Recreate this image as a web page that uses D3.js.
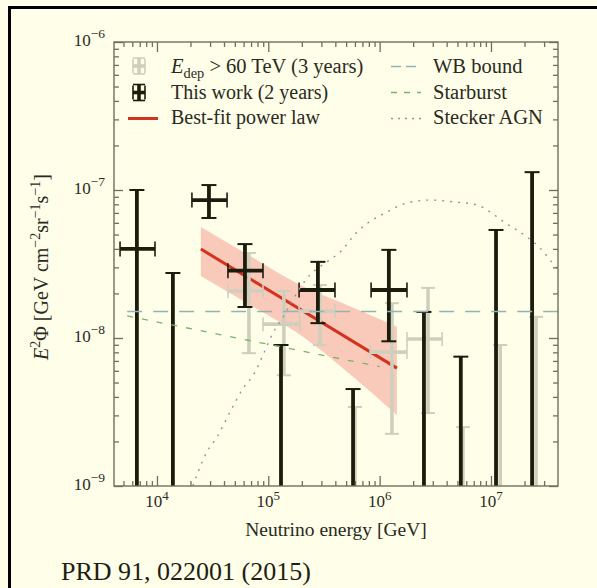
<!DOCTYPE html>
<html>
<head>
<meta charset="utf-8">
<script src="https://cdn.jsdelivr.net/npm/d3@7"></script>
<style>
body { margin: 0; background: #fefee9; }
text { font-family: "Liberation Serif", serif; fill: #2a2a1e; }
</style>
</head>
<body>
<svg id="chart" width="597" height="588"></svg>
<script>
// ---- data ----
// This work (2 years): measured bins
var workE     = [6.6e3, 2.93e4, 6.17e4, 2.79e5, 1.21e6]
var workELo   = [4.66e3, 2.06e4, 4.34e4, 1.89e5, 8.38e5]
var workEHi   = [9.6e3, 4.26e4, 8.96e4, 3.97e5, 1.76e6]
var workFlux  = [4.0e-8, 8.55e-8, 2.85e-8, 2.11e-8, 2.11e-8]
var workLo    = [0, 6.47e-8, 1.62e-8, 1.26e-8, 9.5e-9]
var workHi    = [1.0e-7, 1.08e-7, 4.31e-8, 3.27e-8, 3.94e-8]
// This work: upper limits
var workUlE   = [1.39e4, 1.3e5, 5.77e5, 2.5e6, 5.36e6, 1.11e7, 2.34e7]
var workUl    = [2.75e-8, 8.97e-9, 4.52e-9, 1.5e-8, 7.48e-9, 5.37e-8, 1.32e-7]

// Edep > 60 TeV (3 years)
var threeE    = [6.7e4, 1.38e5, 2.91e5, 1.29e6, 2.72e6]
var threeELo  = [4.34e4, 8.96e4, 1.89e5, 8.2e5, 1.76e6]
var threeEHi  = [8.96e4, 1.93e5, 3.97e5, 1.76e6, 3.64e6]
var threeFlux = [2.08e-8, 1.24e-8, 1.52e-8, 8.03e-9, 9.85e-9]
var threeLo   = [7.9e-9, 5.6e-9, 8.97e-9, 2.25e-9, 3.11e-9]
var threeHi   = [3.75e-8, 2.08e-8, 2.28e-8, 1.72e-8, 2.18e-8]
var threeUlE  = [6.0e5, 5.6e6, 1.21e7, 2.54e7]
var threeUl   = [3.42e-9, 2.5e-9, 8.97e-9, 1.39e-8]

// best-fit power law and its band
var fitE      = [2.48e4, 1.43e6]
var fitFlux   = [3.99e-8, 6.26e-9]
var bandE     = [2.48e4, 6.86e4, 1.93e5, 5.42e5, 1.43e6]
var bandHi    = [5.62e-8, 3.58e-8, 2.28e-8, 1.64e-8, 1.19e-8]
var bandLo    = [2.62e-8, 1.67e-8, 1.05e-8, 5.7e-9, 3.02e-9]

// models
var wbE       = [5.4e3, 4.35e7]
var wbFlux    = [1.51e-8, 1.51e-8]
var sbE       = [5.4e3, 1.0e6]
var sbFlux    = [1.41e-8, 6.4e-9]
var agnE      = [2.10e4, 2.81e4, 3.46e4, 4.53e4, 5.81e4, 7.60e4, 8.95e4, 1.10e5, 1.36e5, 1.93e5, 2.37e5,
                 3.37e5, 4.41e5, 6.27e5, 1.16e6, 1.76e6, 2.84e6, 4.66e6, 7.50e6, 9.82e6, 1.31e7, 2.11e7,
                 2.76e7, 3.69e7, 4.17e7]
var agnFlux   = [1.0e-9, 1.70e-9, 2.14e-9, 3.16e-9, 4.46e-9, 5.89e-9, 7.67e-9, 1.08e-8, 1.39e-8, 2.18e-8, 2.67e-8,
                 3.27e-8, 3.81e-8, 5.20e-8, 7.10e-8, 8.17e-8, 8.55e-8, 8.30e-8, 7.93e-8, 7.10e-8, 6.08e-8, 4.81e-8,
                 4.06e-8, 3.11e-8, 2.79e-8]

var xMajor = [1e4, 1e5, 1e6, 1e7]
var yMajor = [1e-9, 1e-8, 1e-7, 1e-6]
var xExp = ['4', '5', '6', '7']
var yExp = ['\u22129', '\u22128', '\u22127', '\u22126']

// ---- layout ----
var svg = d3.select('#chart')
var L = 114, R = 558, T = 42, B = 486
var x = d3.scaleLog().domain([Math.pow(10, 3.614), Math.pow(10, 7.602)]).range([L, R])
var y = d3.scaleLog().domain([1e-9, 1e-6]).range([B, T])

var black = '#1c1c0c', gray = '#cfcfbd', axisCol = '#6f6f5c'

// frame of the slide
svg.append('line').attr('x1', 8).attr('x2', 597).attr('y1', 7.5).attr('y2', 7.5)
    .attr('stroke', '#000').attr('stroke-width', 3)
svg.append('line').attr('x1', 9.5).attr('x2', 9.5).attr('y1', 6).attr('y2', 588)
    .attr('stroke', '#000').attr('stroke-width', 3)

svg.append('clipPath').attr('id', 'plotclip')
    .append('rect').attr('x', L).attr('y', T).attr('width', R - L).attr('height', B - T)

var plot = svg.append('g').attr('clip-path', 'url(#plotclip)')

// band
var band = bandE.map(function(e, i) { return {e: e, lo: bandLo[i], hi: bandHi[i]} })
plot.append('path')
    .datum(band)
    .attr('fill', '#f8c4b4')
    .attr('opacity', 0.9)
    .attr('d', d3.area()
        .x(function(d) { return x(d.e) })
        .y0(function(d) { return y(d.lo) })
        .y1(function(d) { return y(d.hi) })
        .curve(d3.curveMonotoneX))

var line = d3.line()
    .x(function(d) { return x(d[0]) })
    .y(function(d) { return y(d[1]) })

plot.append('path')
    .datum(d3.zip(fitE, fitFlux))
    .attr('fill', 'none').attr('stroke', '#d2321f').attr('stroke-width', 3)
    .attr('d', line)

// models (not clipped on the right, as in the figure)
var models = svg.append('g')
models.append('path').datum(d3.zip(wbE, wbFlux))
    .attr('fill', 'none').attr('stroke', '#93b3b4').attr('stroke-width', 1.4)
    .attr('stroke-dasharray', '15,11').attr('d', line)
models.append('path').datum(d3.zip(sbE, sbFlux))
    .attr('fill', 'none').attr('stroke', '#78b46a').attr('stroke-width', 1.3)
    .attr('stroke-dasharray', '6,9').attr('d', line)
models.append('path').datum(d3.zip(agnE, agnFlux))
    .attr('fill', 'none').attr('stroke', '#a48aa4').attr('stroke-width', 1.4)
    .attr('stroke-dasharray', '2,6').attr('d', line.curve(d3.curveMonotoneX))
line.curve(d3.curveLinear)

// error bars
function errbar(g, color, cx, xlo, xhi, fy, ylo, yhi, lw, cap) {
    var px = x(cx)
    var top = y(yhi)
    var bot = ylo > 0 ? y(ylo) : B + 2
    g.append('line').attr('x1', px).attr('x2', px).attr('y1', top).attr('y2', bot)
        .attr('stroke', color).attr('stroke-width', lw)
    g.append('line').attr('x1', px - cap / 2).attr('x2', px + cap / 2).attr('y1', top).attr('y2', top)
        .attr('stroke', color).attr('stroke-width', 2)
    if (ylo > 0) {
        g.append('line').attr('x1', px - cap / 2).attr('x2', px + cap / 2).attr('y1', bot).attr('y2', bot)
            .attr('stroke', color).attr('stroke-width', 2)
    }
    if (xlo != null) {
        var py = y(fy)
        g.append('line').attr('x1', x(xlo)).attr('x2', x(xhi)).attr('y1', py).attr('y2', py)
            .attr('stroke', color).attr('stroke-width', lw)
        ;[x(xlo), x(xhi)].forEach(function(e) {
            g.append('line').attr('x1', e).attr('x2', e).attr('y1', py - cap / 2).attr('y2', py + cap / 2)
                .attr('stroke', color).attr('stroke-width', 1.6)
        })
    }
}

var gGray = plot.append('g')
threeE.forEach(function(e, i) {
    errbar(gGray, gray, e, threeELo[i], threeEHi[i], threeFlux[i], threeLo[i], threeHi[i], 3.6, 14)
})
threeUlE.forEach(function(e, i) {
    errbar(gGray, gray, e, null, null, null, 0, threeUl[i], 3.6, 14)
})

var gBlack = plot.append('g')
workE.forEach(function(e, i) {
    errbar(gBlack, black, e, workELo[i], workEHi[i], workFlux[i], workLo[i], workHi[i], 3.8, 15)
})
workUlE.forEach(function(e, i) {
    errbar(gBlack, black, e, null, null, null, 0, workUl[i], 3.8, 15)
})

// ---- axes ----
svg.append('rect').attr('x', L).attr('y', T).attr('width', R - L).attr('height', B - T)
    .attr('fill', 'none').attr('stroke', axisCol).attr('stroke-width', 1.4)

function minorTicks(scale) {
    var d = scale.domain(), out = []
    for (var p = Math.floor(Math.log10(d[0])); p <= Math.ceil(Math.log10(d[1])); p++) {
        for (var k = 2; k <= 9; k++) {
            var v = k * Math.pow(10, p)
            if (v > d[0] && v < d[1]) out.push(v)
        }
    }
    return out
}

function tickAxis(gen, scale, vals, len, tr) {
    var g = svg.append('g').attr('transform', tr)
        .call(gen(scale).tickValues(vals).tickSizeInner(-len).tickSizeOuter(0).tickFormat(''))
    g.select('.domain').remove()
    g.selectAll('line').attr('stroke', axisCol).attr('stroke-width', 1.3)
    return g
}

var xMin = minorTicks(x), yMin = minorTicks(y)
tickAxis(d3.axisBottom, x, xMajor, 10, 'translate(0,' + B + ')')
tickAxis(d3.axisBottom, x, xMin, 5, 'translate(0,' + B + ')')
tickAxis(d3.axisTop, x, xMajor, 10, 'translate(0,' + T + ')')
tickAxis(d3.axisTop, x, xMin, 5, 'translate(0,' + T + ')')
tickAxis(d3.axisLeft, y, yMajor, 9, 'translate(' + L + ',0)')
tickAxis(d3.axisLeft, y, yMin, 5, 'translate(' + L + ',0)')
tickAxis(d3.axisRight, y, yMajor, 9, 'translate(' + R + ',0)')
tickAxis(d3.axisRight, y, yMin, 5, 'translate(' + R + ',0)')

// tick labels with superscripts
xMajor.forEach(function(v, i) {
    var t = svg.append('text').attr('x', x(v)).attr('y', B + 21).attr('text-anchor', 'middle')
        .style('font-size', '17px')
    t.append('tspan').text('10')
    t.append('tspan').attr('dy', -7).style('font-size', '13px').text(xExp[i])
})
yMajor.forEach(function(v, i) {
    var t = svg.append('text').attr('x', L - 9).attr('y', y(v) + 4).attr('text-anchor', 'end')
        .style('font-size', '17px')
    t.append('tspan').text('10')
    t.append('tspan').attr('dy', -8).style('font-size', '13.5px').text(yExp[i])
})

// rich text helper: parts = [[str, kind]]
function rich(t, parts, base) {
    var shift = 0
    parts.forEach(function(p) {
        var s = t.append('tspan').text(p[0])
        var want = p[1] == 'sup' ? -0.42 * base : p[1] == 'sub' ? 0.25 * base : 0
        s.attr('dy', want - shift)
        shift = want
        if (p[1] == 'sup' || p[1] == 'sub') s.style('font-size', (base * 0.7) + 'px')
        if (p[1] == 'it') s.style('font-style', 'italic')
    })
}

svg.append('text').attr('x', (L + R) / 2).attr('y', B + 50).attr('text-anchor', 'middle')
    .style('font-size', '19.5px').text('Neutrino energy [GeV]')

var yl = svg.append('text').attr('transform', 'translate(48,' + 267 + ') rotate(-90)')
    .attr('text-anchor', 'middle').style('font-size', '20px')
rich(yl, [['E', 'it'], ['2', 'sup'], ['\u03a6 [GeV cm', 'n'], ['\u22122', 'sup'], ['sr', 'n'],
          ['\u22121', 'sup'], ['s', 'n'], ['\u22121', 'sup'], [']', 'n']], 20)

// ---- legend ----
var leg = svg.append('g')
function legCross(cx, cy, color) {
    leg.append('line').attr('x1', cx).attr('x2', cx).attr('y1', cy - 8).attr('y2', cy + 8)
        .attr('stroke', color).attr('stroke-width', 3.6)
    leg.append('line').attr('x1', cx - 6).attr('x2', cx + 6).attr('y1', cy).attr('y2', cy)
        .attr('stroke', color).attr('stroke-width', 3.6)
    ;[-8, 8].forEach(function(d) {
        leg.append('line').attr('x1', cx - 6).attr('x2', cx + 6).attr('y1', cy + d).attr('y2', cy + d)
            .attr('stroke', color).attr('stroke-width', 1.6)
    })
    ;[-6, 6].forEach(function(d) {
        leg.append('line').attr('x1', cx + d).attr('x2', cx + d).attr('y1', cy - 7).attr('y2', cy + 7)
            .attr('stroke', color).attr('stroke-width', 1.6)
    })
}
legCross(139, 66, gray)
legCross(139, 92.5, black)
leg.append('line').attr('x1', 128).attr('x2', 158).attr('y1', 118.5).attr('y2', 118.5)
    .attr('stroke', '#d2321f').attr('stroke-width', 3)

var t1 = leg.append('text').attr('x', 171).attr('y', 73).style('font-size', '20.5px')
rich(t1, [['E', 'it'], ['dep', 'sub'], [' > 60 TeV (3 years)', 'n']], 20.5)
leg.append('text').attr('x', 171).attr('y', 99).style('font-size', '20px').text('This work (2 years)')
leg.append('text').attr('x', 171).attr('y', 124).style('font-size', '20px').text('Best-fit power law')

leg.append('line').attr('x1', 391).attr('x2', 421).attr('y1', 66.5).attr('y2', 66.5)
    .attr('stroke', '#93b3b4').attr('stroke-width', 1.4).attr('stroke-dasharray', '10,5')
leg.append('line').attr('x1', 391).attr('x2', 421).attr('y1', 92.5).attr('y2', 92.5)
    .attr('stroke', '#78b46a').attr('stroke-width', 1.3).attr('stroke-dasharray', '6,7')
leg.append('line').attr('x1', 391).attr('x2', 421).attr('y1', 118.5).attr('y2', 118.5)
    .attr('stroke', '#a48aa4').attr('stroke-width', 1.4).attr('stroke-dasharray', '2,5')
leg.append('text').attr('x', 433).attr('y', 73).style('font-size', '20.5px').text('WB bound')
leg.append('text').attr('x', 433).attr('y', 99).style('font-size', '20.5px').text('Starburst')
leg.append('text').attr('x', 433).attr('y', 124).style('font-size', '20.5px').text('Stecker AGN')

// citation
svg.append('text').attr('x', 61).attr('y', 580).style('font-size', '26px')
    .style('fill', '#1e1e14').text('PRD 91, 022001 (2015)')
</script>
</body>
</html>
